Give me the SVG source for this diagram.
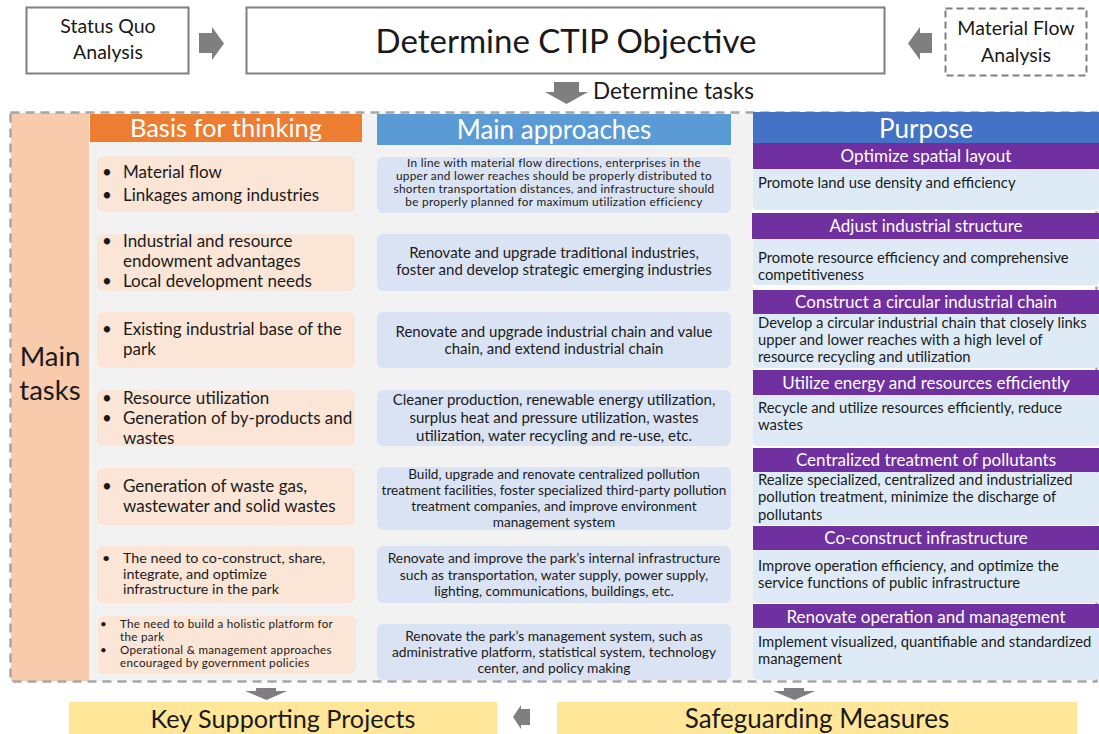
<svg xmlns="http://www.w3.org/2000/svg" width="1099" height="734" viewBox="0 0 1099 734">
<style>
text{font-family:Lato,"Open Sans","Liberation Sans",sans-serif;fill:#1a1a1a}
.c{text-anchor:middle}
.w{fill:#fff}
.l{font-size:17px}
.m{font-size:15px}
.r{font-size:14.8px}
.h{font-size:17px;fill:#fff;text-anchor:middle}
.lb{fill:#FBE5D6}
.mb{fill:#DAE3F3}
.rb{fill:#DEEBF7}
.ph{fill:#7030A0}
.arr{fill:#7F7F7F}
.s7{font-size:11.6px;letter-spacing:0.3px}
.a1{font-size:11.8px;letter-spacing:0.3px}
</style>
<rect width="1099" height="734" fill="#fff"/>
<!-- top -->
<g id="status-quo"><rect x="26.5" y="7.5" width="162" height="66" fill="#fff" stroke="#7F7F7F" stroke-width="2"/><text class="c" x="108" y="33" font-size="19.5">Status Quo</text><text class="c" x="108" y="59" font-size="19.5">Analysis</text></g>
<g id="objective"><rect x="246.5" y="7.5" width="638" height="66" fill="#fff" stroke="#7F7F7F" stroke-width="2"/><text class="c" x="566" y="53" font-size="33">Determine CTIP Objective</text></g>
<g id="material-flow"><rect x="945.5" y="8.5" width="141" height="67" fill="#fff" stroke="#7F7F7F" stroke-width="2" stroke-dasharray="7,4"/><text class="c" x="1016" y="35" font-size="19.5">Material Flow</text><text class="c" x="1016" y="62" font-size="19.5">Analysis</text></g>
<g id="connectors">
<polygon class="arr" points="199,33 212,33 212,27 224,43.5 212,60 212,53 199,53"/>
<polygon class="arr" points="932,33 920,33 920,27 908,43.5 920,60 920,53 932,53"/>
<polygon class="arr" points="554,82 579,82 579,92 588,92 566.5,104 545,92 554,92"/>
<polygon class="arr" points="256,688 276,688 276,691 287,691 266.5,700 245,691 256,691"/>
<polygon class="arr" points="784,688 804,688 804,691 815,691 794.5,700 773,691 784,691"/>
<polygon class="arr" points="530,709 521,709 521,705 513,717 521,729 521,725 530,725"/>
<g id="row-arrows">
<polygon class="arr" points="360,160 372,184 360,208"/><polygon class="arr" points="360,237 372,262 360,287"/><polygon class="arr" points="360,315 372,340 360,365"/><polygon class="arr" points="360,393 372,418 360,443"/><polygon class="arr" points="360,471 372,496 360,521"/><polygon class="arr" points="360,549 372,574 360,599"/><polygon class="arr" points="360,620 372,645 360,670"/>
<polygon class="arr" points="741,160 753,185 741,210"/><polygon class="arr" points="741,237 753,262 741,287"/><polygon class="arr" points="741,315 753,340 741,365"/><polygon class="arr" points="741,393 753,418 741,443"/><polygon class="arr" points="741,471 753,496 741,521"/><polygon class="arr" points="741,549 753,574 741,599"/><polygon class="arr" points="741,627 753,652 741,677"/>
</g>
</g>
<text x="593" y="99" font-size="22.5">Determine tasks</text>
<!-- main container -->
<g id="main-tasks">
<rect x="89" y="114" width="664" height="567" fill="#F2F2F2"/>
<rect x="11" y="113" width="78" height="568" fill="#F8CBAD"/>
<text class="c" x="50" y="366" font-size="27.5">Main</text><text class="c" x="50" y="400" font-size="27.5">tasks</text>
<rect x="10.5" y="112.5" width="1086" height="569" fill="none" stroke="#A6A6A6" stroke-width="2.5" stroke-dasharray="9,6"/>
</g>
<g id="basis-header"><rect x="90" y="114" width="272" height="28" fill="#ED7D31"/><text class="c w" x="226" y="137" font-size="25.5">Basis for thinking</text></g>
<g id="approach-header"><rect x="377" y="114" width="354" height="31" fill="#5B9BD5"/><text class="c w" x="554" y="139" font-size="26">Main approaches</text></g>
<g id="purpose-header"><rect x="753" y="112" width="346" height="31" fill="#4472C4"/><text class="c w" x="926" y="138" font-size="26">Purpose</text></g>
<!-- left -->
<g id="basis-1"><rect class="lb" x="97" y="156" width="258" height="56" rx="6"/><text class="l" x="102" y="178">•</text><text class="l" x="123" y="178">Material flow</text><text class="l" x="102" y="201">•</text><text class="l" x="123" y="201">Linkages among industries</text></g>
<g id="basis-2"><rect class="lb" x="97" y="234" width="258" height="57" rx="6"/><text class="l" x="102" y="247">•</text><text class="l" x="123" y="247">Industrial and resource</text><text class="l" x="123" y="267">endowment advantages</text><text class="l" x="102" y="287">•</text><text class="l" x="123" y="287">Local development needs</text></g>
<g id="basis-3"><rect class="lb" x="97" y="312" width="258" height="56" rx="6"/><text class="l" x="102" y="335">•</text><text class="l" x="123" y="335">Existing industrial base of the</text><text class="l" x="123" y="355">park</text></g>
<g id="basis-4"><rect class="lb" x="97" y="390" width="258" height="56" rx="6"/><text class="l" x="102" y="404">•</text><text class="l" x="123" y="404">Resource utilization</text><text class="l" x="102" y="424">•</text><text class="l" x="123" y="424">Generation of by-products and</text><text class="l" x="123" y="444">wastes</text></g>
<g id="basis-5"><rect class="lb" x="97" y="468" width="258" height="57" rx="6"/><text class="l" x="102" y="492">•</text><text class="l" x="123" y="492">Generation of waste gas,</text><text class="l" x="123" y="512">wastewater and solid wastes</text></g>
<g id="basis-6"><rect class="lb" x="97" y="546" width="258" height="57" rx="6"/><text x="102" y="563" font-size="14.3">•</text><text x="123" y="563" font-size="14.3">The need to co-construct, share,</text><text x="123" y="579" font-size="14.3">integrate, and optimize</text><text x="123" y="594" font-size="14.3">infrastructure in the park</text></g>
<g id="basis-7"><rect class="lb" x="98" y="616" width="258" height="58" rx="6"/><text class="s7" x="100" y="628">•</text><text class="s7" x="120" y="628">The need to build a holistic platform for</text><text class="s7" x="120" y="641">the park</text><text class="s7" x="100" y="654">•</text><text class="s7" x="120" y="654">Operational &amp; management approaches</text><text class="s7" x="120" y="667">encouraged by government policies</text></g>
<!-- middle -->
<g id="approach-1"><rect class="mb" x="377" y="157" width="354" height="56" rx="6"/><text class="c a1" x="554" y="167">In line with material flow directions, enterprises in the</text><text class="c a1" x="554" y="180">upper and lower reaches should be properly distributed to</text><text class="c a1" x="554" y="193">shorten transportation distances, and infrastructure should</text><text class="c a1" x="554" y="206">be properly planned for  maximum utilization efficiency</text></g>
<g id="approach-2"><rect class="mb" x="377" y="234" width="354" height="57" rx="6"/><text class="c m" x="554" y="258">Renovate and upgrade traditional industries,</text><text class="c m" x="554" y="275">foster and develop strategic emerging industries</text></g>
<g id="approach-3"><rect class="mb" x="377" y="312" width="354" height="56" rx="6"/><text class="c m" x="554" y="337">Renovate and upgrade industrial chain and value</text><text class="c m" x="554" y="354">chain,  and extend industrial chain</text></g>
<g id="approach-4"><rect class="mb" x="377" y="390" width="354" height="56" rx="6"/><text class="c m" x="554" y="405">Cleaner production, renewable energy utilization,</text><text class="c m" x="554" y="423">surplus heat and pressure utilization, wastes</text><text class="c m" x="554" y="441">utilization, water recycling and re-use, etc.</text></g>
<g id="approach-5"><rect class="mb" x="377" y="467" width="354" height="63" rx="6"/><text class="c" x="554" y="479" font-size="13.6">Build, upgrade and renovate centralized pollution</text><text class="c" x="554" y="495" font-size="13.6">treatment facilities, foster specialized third-party pollution</text><text class="c" x="554" y="511" font-size="13.6">treatment companies, and improve environment</text><text class="c" x="554" y="527" font-size="13.6">management system</text></g>
<g id="approach-6"><rect class="mb" x="377" y="546" width="354" height="57" rx="6"/><text class="c" x="554" y="563" font-size="13.8">Renovate and improve the park’s internal infrastructure</text><text class="c" x="554" y="580" font-size="13.8">such as transportation, water supply, power supply,</text><text class="c" x="554" y="596" font-size="13.8">lighting, communications, buildings, etc.</text></g>
<g id="approach-7"><rect class="mb" x="377" y="624" width="354" height="56" rx="6"/><text class="c" x="554" y="641" font-size="13.8">Renovate the park’s management system, such as</text><text class="c" x="554" y="657" font-size="13.8">administrative platform, statistical system,  technology</text><text class="c" x="554" y="673" font-size="13.8">center, and policy making</text></g>
<!-- right -->
<g id="purpose-1"><rect class="rb" x="753" y="169" width="346" height="41" rx="4"/><rect class="ph" x="753" y="143" width="346" height="26"/><text class="h" x="926" y="162">Optimize spatial layout</text><text class="r" x="758" y="188">Promote land use density and efficiency</text></g>
<g id="purpose-2"><rect class="rb" x="753" y="239" width="346" height="46" rx="4"/><rect class="ph" x="752" y="213" width="347" height="26"/><text class="h" x="926" y="232">Adjust industrial structure</text><text class="r" x="758" y="263">Promote resource efficiency and comprehensive</text><text class="r" x="758" y="280">competitiveness</text></g>
<g id="purpose-3"><rect class="rb" x="753" y="314" width="346" height="54" rx="4"/><rect class="ph" x="753" y="290" width="346" height="24"/><text class="h" x="926" y="308">Construct a circular industrial chain</text><text class="r" x="758" y="328">Develop a circular industrial chain that closely links</text><text class="r" x="758" y="345">upper and lower reaches with a high level of</text><text class="r" x="758" y="362">resource recycling and utilization</text></g>
<g id="purpose-4"><rect class="rb" x="753" y="395" width="346" height="51" rx="4"/><rect class="ph" x="753" y="370" width="346" height="25"/><text class="h" x="926" y="389">Utilize energy and resources efficiently</text><text class="r" x="758" y="413">Recycle and utilize resources efficiently, reduce</text><text class="r" x="758" y="430">wastes</text></g>
<g id="purpose-5"><rect class="rb" x="753" y="472" width="346" height="53" rx="4"/><rect class="ph" x="753" y="448" width="346" height="24"/><text class="h" x="926" y="466">Centralized treatment of pollutants</text><text class="r" x="758" y="485">Realize specialized, centralized and industrialized</text><text class="r" x="758" y="502">pollution treatment, minimize the discharge of</text><text class="r" x="758" y="520">pollutants</text></g>
<g id="purpose-6"><rect class="rb" x="753" y="550" width="346" height="53" rx="4"/><rect class="ph" x="753" y="526" width="346" height="24"/><text class="h" x="926" y="544">Co-construct infrastructure</text><text class="r" x="758" y="571">Improve operation efficiency, and optimize the</text><text class="r" x="758" y="588">service functions of public infrastructure</text></g>
<g id="purpose-7"><rect class="rb" x="753" y="628" width="346" height="52" rx="4"/><rect class="ph" x="753" y="604" width="346" height="24"/><text class="h" x="926" y="623">Renovate operation and management</text><text class="r" x="758" y="647">Implement visualized, quantifiable and standardized</text><text class="r" x="758" y="664">management</text></g>
<!-- bottom -->
<g id="key-projects"><rect x="69" y="702" width="428" height="32" fill="#FFE699"/><text class="c" x="283" y="728" font-size="25.2">Key Supporting Projects</text></g>
<g id="safeguarding"><rect x="557" y="702" width="520" height="32" fill="#FFE699"/><text class="c" x="817" y="728" font-size="26">Safeguarding Measures</text></g>
</svg>
